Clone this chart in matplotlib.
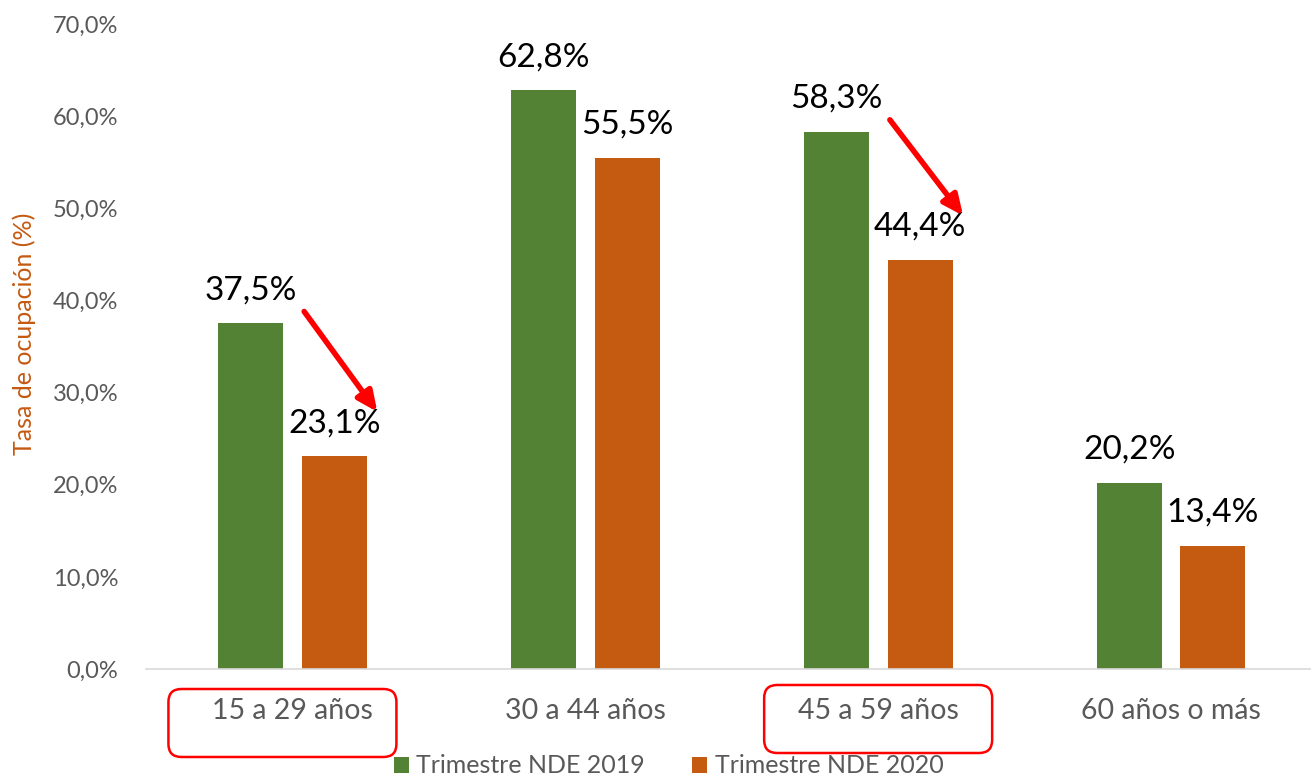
import matplotlib.pyplot as plt
from matplotlib.patches import FancyBboxPatch
from matplotlib.transforms import IdentityTransform

categories = ["15 a 29 años", "30 a 44 años", "45 a 59 años", "60 años o más"]
series_names = ["Trimestre NDE 2019", "Trimestre NDE 2020"]
vals_2019 = [37.5, 62.8, 58.3, 20.2]
vals_2020 = [23.1, 55.5, 44.4, 13.4]
# groups marked with a red arrow and a red box
marked = [0, 2]

green = "#548235"
orange = "#C55A11"
gray = "#595959"

plt.rcParams['font.family'] = ['Lato', 'DejaVu Sans']

fig = plt.figure(figsize=(13.11, 7.80), dpi=100)
ax = fig.add_axes([146/1311, 111/780, 1 - 146/1311, (669-24)/780])

w = 0.222
off = 0.143
x = list(range(len(categories)))
b1 = ax.bar([i - off for i in x], vals_2019, w, color=green, label=series_names[0])
b2 = ax.bar([i + off for i in x], vals_2020, w, color=orange, label=series_names[1])

for bars, vals in ((b1, vals_2019), (b2, vals_2020)):
	for r, v in zip(bars, vals):
		ax.annotate(("%.1f%%" % v).replace(".", ","), (r.get_x() + r.get_width()/2, v),
					xytext=(0, 13), textcoords="offset points", ha="center", va="bottom",
					fontsize=24, color="black")

ax.set_xlim(-0.5, 3.478)
ax.set_ylim(0, 70)
ax.set_yticks(range(0, 71, 10))
ax.set_yticklabels([("%.1f%%" % t).replace(".", ",") for t in range(0, 71, 10)])
ax.set_xticks(x)
ax.set_xticklabels(categories)
ax.tick_params(axis="y", length=0, pad=20, labelsize=17, labelcolor=gray)
ax.tick_params(axis="x", length=0, pad=21, labelsize=20.5, labelcolor=gray)
for s in ("top", "right", "left"):
	ax.spines[s].set_visible(False)
ax.spines["bottom"].set_color("#d9d9d9")
ax.spines["bottom"].set_linewidth(1.2)

ax.set_ylabel("Tasa de ocupación (%)", color=orange, fontsize=18)
ax.yaxis.set_label_coords(-0.094, 0.52)

# red arrows from the 2019 label down to the 2020 label
for i in marked:
	ax.annotate("", xy=(i + 0.29, vals_2020[i] + 4.8), xytext=(i + 0.04, vals_2019[i] + 1.3),
				arrowprops=dict(arrowstyle="-|>,head_length=1.2,head_width=0.55", color="red",
								lw=4, shrinkA=0, shrinkB=0))

fig.canvas.draw()
for i, dx in zip(marked, (-10, 0)):
	cx, cy = ax.transData.transform((i, 0))
	bw, bh = 228, 68
	top = cy - 16 - (4 if i == 0 else 0)
	box = FancyBboxPatch((cx + dx - bw/2, top - bh), bw, bh,
						 boxstyle="round,pad=0,rounding_size=13", transform=IdentityTransform(),
						 fill=False, edgecolor="red", lw=1.8, clip_on=False)
	fig.patches.append(box)

fig.legend(handles=[b1, b2], loc="center", bbox_to_anchor=(0.51, 0.018), ncol=2, frameon=False,
		   fontsize=18, handlelength=0.6, handleheight=0.6, handletextpad=0.3,
		   columnspacing=1.9, labelcolor=gray, borderpad=0)

fig.savefig("out.png", dpi=100)
